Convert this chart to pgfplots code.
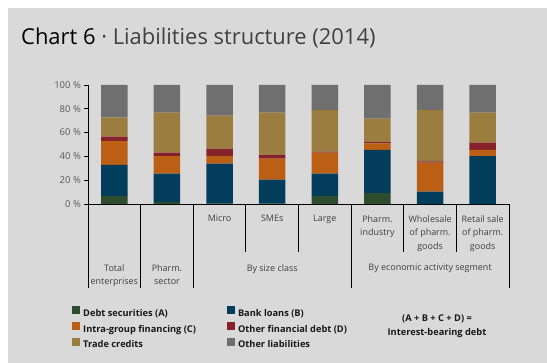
\documentclass[border=0pt]{standalone}
\usepackage{fontspec}
\setmainfont{Open Sans}
\usepackage{pgfplots}
\pgfplotsset{compat=1.18}
\usepackage{pgfplotstable}
\definecolor{bgc}{HTML}{D9D9D9}
\definecolor{cA}{HTML}{2E4D2F}
\definecolor{cB}{HTML}{023E5C}
\definecolor{cC}{HTML}{BB5F15}
\definecolor{cD}{HTML}{86222A}
\definecolor{cT}{HTML}{9C7D40}
\definecolor{cO}{HTML}{6F6F6F}
\definecolor{lblgray}{HTML}{404040}
\definecolor{tickgray}{HTML}{595959}
\definecolor{titlegray}{HTML}{404040}

\pgfplotstableread{
x A B C D T O
0 6.7 26.1 20.1 3.7 16.2 27.2
1 1.7 23.8 14.8 2.8 33.7 23.2
2 0.3 33.6 6.4 6.2 27.7 25.8
3 0.3 20.1 17.7 3.4 35.3 23.2
4 6.7 18.8 17.6 0.9 35.0 21.0
5 9.2 36.2 5.6 1.1 19.6 28.3
6 0.0 10.4 24.3 1.2 43.1 21.0
7 0.0 40.3 5.1 6.1 25.3 23.2
}\liab

\begin{document}
\begin{tikzpicture}
\useasboundingbox (0bp,0bp) rectangle (547bp,363bp);
\fill[white] (0bp,0bp) rectangle (547bp,363bp);
\fill[bgc] (8bp,0bp) rectangle (547bp,355bp);
\node[anchor=base west, inner sep=0pt, font=\fontsize{22}{26}\selectfont] at (21bp,318bp)
  {Chart 6 \textcolor{titlegray}{· Liabilities structure (2014)}};
\node[anchor=center, align=center, inner sep=0pt, font=\fontsize{9.3}{14}\selectfont\bfseries, text=black!90]
  at (437bp,37bp) {(A + B + C + D) =\\Interest-bearing debt};
\begin{axis}[
  at={(88bp,159bp)}, anchor=south west,
  scale only axis, width=421bp, height=119bp,
  xmin=-0.5, xmax=7.5, ymin=0, ymax=100,
  ybar stacked, bar width=26.5bp,
  axis x line*=bottom, axis y line*=left,
  axis line style={line width=0.8bp, black, -},
  xtick=\empty,
  ytick={0,20,40,60,80,100},
  yticklabels={0 \%,20 \%,40 \%,60 \%,80 \%,100 \%},
  tick align=outside, major tick length=4bp,
  tick style={line width=0.8bp, black},
  ytick pos=left,
  yticklabel style={font=\fontsize{9.5}{11}\selectfont, text=tickgray, inner sep=0pt, xshift=-3bp},
  /pgf/number format/assume math mode=true,
  clip=false,
  legend columns=2,
  legend cell align=left,
  legend image code/.code={\fill (0bp,-0.5bp) rectangle (8bp,7.5bp);},
  legend style={draw=none, fill=none, at={(axis description cs:-0.0451,-0.84)}, anchor=north west,
    font=\fontsize{9.3}{11}\selectfont\bfseries, text=black!90,
    nodes={inner sep=0pt},
    row sep=4bp,
    /tikz/every odd column/.append style={column sep=3bp},
    /tikz/every even column/.append style={column sep=31bp}},
]
\addplot[fill=cA, draw=none] table[x=x, y=A] {\liab};
\addlegendentry{Debt securities (A)}
\addplot[fill=cB, draw=none] table[x=x, y=B] {\liab};
\addlegendentry{Bank loans (B)}
\addplot[fill=cC, draw=none] table[x=x, y=C] {\liab};
\addlegendentry{Intra-group financing (C)}
\addplot[fill=cD, draw=none] table[x=x, y=D] {\liab};
\addlegendentry{Other financial debt (D)}
\addplot[fill=cT, draw=none] table[x=x, y=T] {\liab};
\addlegendentry{Trade credits}
\addplot[fill=cO, draw=none] table[x=x, y=O] {\liab};
\addlegendentry{Other liabilities}

% category separators
\draw[line width=0.8bp, black] (axis cs:-0.5,0) -- ([yshift=-84bp]axis cs:-0.5,0);
\draw[line width=0.8bp, black] (axis cs:0.5,0) -- ([yshift=-84bp]axis cs:0.5,0);
\draw[line width=0.8bp, black] (axis cs:1.5,0) -- ([yshift=-84bp]axis cs:1.5,0);
\draw[line width=0.8bp, black] (axis cs:4.5,0) -- ([yshift=-84bp]axis cs:4.5,0);
\draw[line width=0.8bp, black] (axis cs:7.5,0) -- ([yshift=-84bp]axis cs:7.5,0);
\draw[line width=0.8bp, black] (axis cs:2.5,0) -- ([yshift=-48bp]axis cs:2.5,0);
\draw[line width=0.8bp, black] (axis cs:3.5,0) -- ([yshift=-48bp]axis cs:3.5,0);
\draw[line width=0.8bp, black] (axis cs:5.5,0) -- ([yshift=-48bp]axis cs:5.5,0);
\draw[line width=0.8bp, black] (axis cs:6.5,0) -- ([yshift=-48bp]axis cs:6.5,0);
\tikzset{lbl/.style={anchor=north, align=center, inner sep=0pt, text=lblgray, font=\fontsize{9}{14}\selectfont}}
\node[lbl] at ([yshift=-11bp]axis cs:2,0) {Micro};
\node[lbl] at ([yshift=-11bp]axis cs:3,0) {SMEs};
\node[lbl] at ([yshift=-11bp]axis cs:4,0) {Large};
\node[lbl] at ([yshift=-11bp]axis cs:5,0) {Pharm.\\industry};
\node[lbl] at ([yshift=-11bp]axis cs:6,0) {Wholesale\\of pharm.\\goods};
\node[lbl] at ([yshift=-11bp]axis cs:7,0) {Retail sale\\of pharm.\\goods};
\node[lbl] at ([yshift=-60bp]axis cs:0,0) {Total\\enterprises};
\node[lbl] at ([yshift=-60bp]axis cs:1,0) {Pharm.\\sector};
\node[lbl] at ([yshift=-60bp]axis cs:3,0) {By size class};
\node[lbl] at ([yshift=-60bp]axis cs:6,0) {By economic activity segment};
\end{axis}
\end{tikzpicture}
\end{document}
